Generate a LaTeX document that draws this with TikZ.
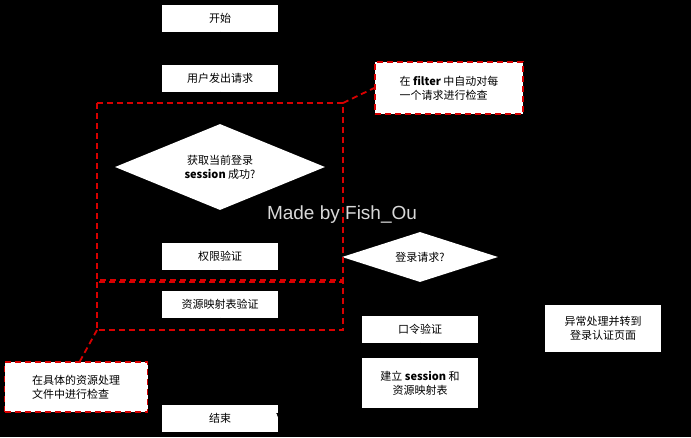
\documentclass[tikz,border=0pt]{standalone}
\usepackage{fontspec}
\setmainfont{Noto Sans CJK SC}
\newfontfamily\markfont{Liberation Sans}
\usetikzlibrary{positioning, shapes, arrows.meta}

\begin{document}
\begin{tikzpicture}[x=1pt, y=-1pt,
      font=\fontsize{11}{14}\selectfont,
      stepbox/.style={rectangle, fill=white, minimum width=116pt, minimum height=27pt, inner sep=1pt},
      decide/.style={diamond, fill=white, aspect=2.4, inner sep=1pt, align=center},
      note/.style={rectangle, fill=white, draw=red!85!black, dashed, line width=1.8pt, dash pattern=on 6pt off 4pt, align=left},
      flow/.style={-{Latex[length=5pt]}, black}]
    \fill[black] (0,0) rectangle (691,437);
    \useasboundingbox (0,0) rectangle (691,437);
    \node[stepbox] (start) at (220,18) {开始};
    \node[stepbox] (req) at (220,78) {用户发出请求};
    \node[decide, minimum width=210pt, minimum height=86pt] (sess) at (220,167) {获取当前登录\\\textbf{session} 成功?};
    \node[stepbox] (auth) at (220,256) {权限验证};
    \node[stepbox] (res) at (220,304) {资源映射表验证};
    \node[stepbox] (fin) at (220,418) {结束};
    \node[decide, minimum width=156pt, minimum height=50pt] (login) at (420,257) {登录请求?};
    \node[stepbox] (pwd) at (420,329) {口令验证};
    \node[stepbox, minimum height=50pt, align=center] (build) at (420,383) {建立 \textbf{session} 和\\资源映射表};
    \node[stepbox, minimum height=47pt, align=center] (err) at (603,328) {异常处理并转到\\登录认证页面};
    % flow lines
    \draw[flow] (start) -- (req);
    \draw[flow] (req) -- (sess);
    \draw[flow] (sess) -- (auth);
    \draw[flow] (auth) -- (res);
    \draw[flow] (res) -- (fin);
    \draw[flow] (sess.east) -| (login.north);
    \draw[flow] (login) -- (pwd);
    \draw[flow] (pwd) -- (build);
    \draw[flow] (login.east) -| (err.north);
    \draw[flow] (build.west) -| (fin.east);
    % dashed regions
    \draw[red!85!black, line width=1.8pt, dash pattern=on 6pt off 4pt] (97,103) rectangle (343,280);
    \draw[red!85!black, line width=1.8pt, dash pattern=on 6pt off 4pt] (97,282) rectangle (343,330);
    \node[note, minimum width=148pt, minimum height=52pt] (filter) at (449,88) {在 \textbf{filter} 中自动对每\\一个请求进行检查};
    \node[note, minimum width=143pt, minimum height=50pt] (local) at (76,387) {在具体的资源处理\\文件中进行检查};
    \coordinate (boxA) at (343,103);
    \coordinate (boxB) at (97,330);
    \draw[red!85!black, line width=1.8pt, dash pattern=on 6pt off 4pt] (boxA) -- (filter.west);
    \draw[red!85!black, line width=1.8pt, dash pattern=on 6pt off 4pt] (boxB) -- (local.north -| 80,0);
    \node[text=white!85!black, font=\markfont\fontsize{19}{20}\selectfont] (mark) at (342,215) {Made by Fish\_Ou};
\end{tikzpicture}
\end{document}
